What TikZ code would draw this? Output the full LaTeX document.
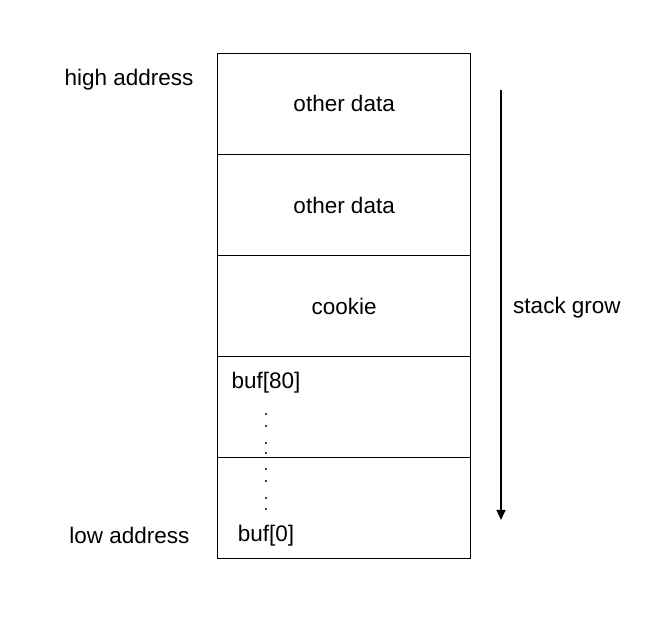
\documentclass[tikz,border=0pt]{standalone}
\usepackage{fontspec}
\setmainfont{Liberation Sans}
\usetikzlibrary{arrows.meta}
\begin{document}
\begin{tikzpicture}[x=1pt,y=1pt,
  cell/.style={draw=black,line width=1.3pt,minimum width=253pt,minimum height=101pt,inner sep=0pt,anchor=north west,font=\fontsize{22.5}{27}\selectfont},
  lbl/.style={inner sep=0pt,font=\fontsize{22.5}{27}\selectfont},
  dotm/.style={circle,fill=black,inner sep=0pt,minimum size=2.2pt}]
\useasboundingbox (0,0) rectangle (656,634);
\node[cell] (c1) at (217,581) {\raisebox{1pt}{other data}};
\node[cell] (c2) at (217,480) {other data};
\node[cell] (c3) at (217,379) {cookie};
\node[cell] (c4) at (217,278) {};
\node[cell] (c5) at (217,177) {};
\node[lbl] (ha) at (129,554) {high address};
\node[lbl] (la) at (129.5,99) {low address};
\node[lbl] (b80) at (266,251) {buf[80]};
\node[lbl] (b0) at (266,98) {buf[0]};
\node[lbl] (sg) at (567,326) {stack grow};
\foreach \y [count=\i] in {414,426,443,453,469,481,498,509}
  \node[dotm] (d\i) at (266,634-\y) {};
\coordinate (as) at (501,544);
\coordinate (ae) at (501,114);
\draw[line width=1.3pt,-{Triangle[length=10pt,width=9pt]}] (as) -- (ae);
\end{tikzpicture}
\end{document}
